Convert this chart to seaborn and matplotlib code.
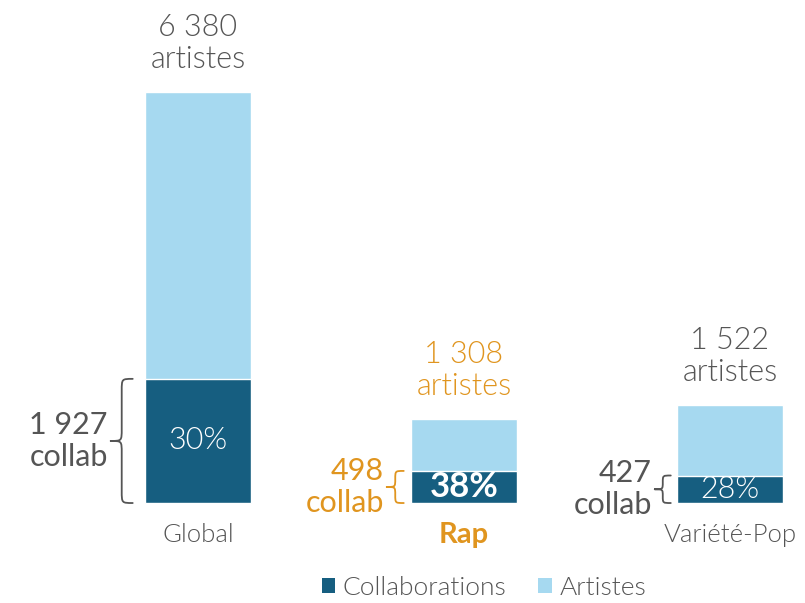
import matplotlib
matplotlib.use("Agg")
import matplotlib.pyplot as plt
from matplotlib.path import Path
from matplotlib.patches import PathPatch, Patch
import seaborn as sns
import pandas as pd

# ---- data ----
categories = ["Global", "Rap", "Variété-Pop"]
artistes = [6380, 1308, 1522]
collabs = [1927, 498, 427]
pct_labels = ["30%", "38%", "28%"]
total_labels = ["6 380\nartistes", "1 308\nartistes", "1 522\nartistes"]
collab_labels = ["1 927\ncollab", "498\ncollab", "427\ncollab"]

# ---- style ----
DARK = "#165e80"
LIGHT = "#a6d9f0"
ORANGE = "#e0951f"
GREY = "#555555"
LIGHTW = 300
highlight = [False, True, False]

sns.set_theme(style="white")
plt.rcParams["font.family"] = ["Lato", "DejaVu Sans"]

W, H, DPI = 805, 603, 100
fig = plt.figure(figsize=(W / DPI, H / DPI), dpi=DPI)
ax = fig.add_axes([0, 0, 1, 1])

df = pd.DataFrame({"cat": categories, "artistes": artistes, "collab": collabs})
sns.barplot(data=df, x="cat", y="artistes", color=LIGHT, width=0.4,
            saturation=1, ax=ax, order=categories)
sns.barplot(data=df, x="cat", y="collab", color=DARK, width=0.4,
            saturation=1, ax=ax, order=categories)

xlim = (-0.744, 2.282)
ylim = (-1552, 7808)
ax.set_xlim(*xlim)
ax.set_ylim(*ylim)
ax.axis("off")

px_x = (xlim[1] - xlim[0]) / W
px_y = (ylim[1] - ylim[0]) / H


def brace(x_right, y0, y1, depth_px, color):
    d = depth_px * px_x
    ym = (y0 + y1) / 2
    r = min(12, (y1 - y0) / px_y / 4) * px_y
    xs = x_right - d * 0.5
    xt = x_right - d
    verts = [
        (x_right, y1),
        (xs, y1), (xs, y1), (xs, y1 - r),
        (xs, ym + r),
        (xs, ym), (xs, ym), (xt, ym),
        (xs, ym), (xs, ym), (xs, ym - r),
        (xs, y0 + r),
        (xs, y0), (xs, y0), (x_right, y0),
    ]
    codes = [Path.MOVETO,
             Path.CURVE4, Path.CURVE4, Path.CURVE4,
             Path.LINETO,
             Path.CURVE4, Path.CURVE4, Path.CURVE4,
             Path.CURVE4, Path.CURVE4, Path.CURVE4,
             Path.LINETO,
             Path.CURVE4, Path.CURVE4, Path.CURVE4]
    ax.add_patch(PathPatch(Path(verts, codes), fill=False, edgecolor=color,
                           lw=1.3, capstyle="round", joinstyle="round"))
    return xt


gaps = [12, 7, 6]
depths = [22, 17, 16]
pt = 72 / DPI  # px -> points

for i, cat in enumerate(categories):
    col = ORANGE if highlight[i] else GREY
    left = i - 0.2
    # total label above bar
    lines = total_labels[i].split("\n")
    ax.annotate(lines[1], (i, artistes[i]), xytext=(0, 32 * pt),
                textcoords="offset points", ha="center", va="center",
                fontsize=22, color=col, fontweight=LIGHTW)
    ax.annotate(lines[0], (i, artistes[i]), xytext=(0, 64 * pt),
                textcoords="offset points", ha="center", va="center",
                fontsize=22, color=col, fontweight=LIGHTW)
    # percentage inside collab part
    ax.text(i, collabs[i] / 2, pct_labels[i], ha="center", va="center",
            color="white", fontsize=25 if highlight[i] else 22,
            fontweight="bold" if highlight[i] else LIGHTW)
    # brace
    xr = left - gaps[i] * px_x
    xt = brace(xr, 0, collabs[i], depths[i], col)
    # collab label
    cl = collab_labels[i].split("\n")
    ax.annotate(cl[0], (xt, collabs[i] / 2), xytext=(-3 * pt, 16 * pt),
                textcoords="offset points", ha="right", va="center",
                fontsize=22, color=col, fontweight="normal")
    ax.annotate(cl[1], (xt, collabs[i] / 2), xytext=(-3 * pt, -16 * pt),
                textcoords="offset points", ha="right", va="center",
                fontsize=22, color=col, fontweight="normal")
    # category label
    ax.annotate(cat, (i, 0), xytext=(0, -32 * pt), textcoords="offset points",
                ha="center", va="center", fontsize=21 if highlight[i] else 18.5,
                color=col, fontweight="bold" if highlight[i] else LIGHTW)

handles = [Patch(facecolor=DARK, edgecolor="none", label="Collaborations"),
           Patch(facecolor=LIGHT, edgecolor="none", label="Artistes")]
fig.legend(handles=handles, loc="center", bbox_to_anchor=(484 / W, 1 - 588 / H),
           ncol=2, frameon=False, handlelength=0.5, borderpad=0.1,
           handleheight=0.5, handletextpad=0.3, columnspacing=1.2,
           labelcolor=GREY, prop={"family": ["Lato", "DejaVu Sans"],
                                  "weight": LIGHTW, "size": 19})

fig.savefig("out.png", dpi=DPI)
